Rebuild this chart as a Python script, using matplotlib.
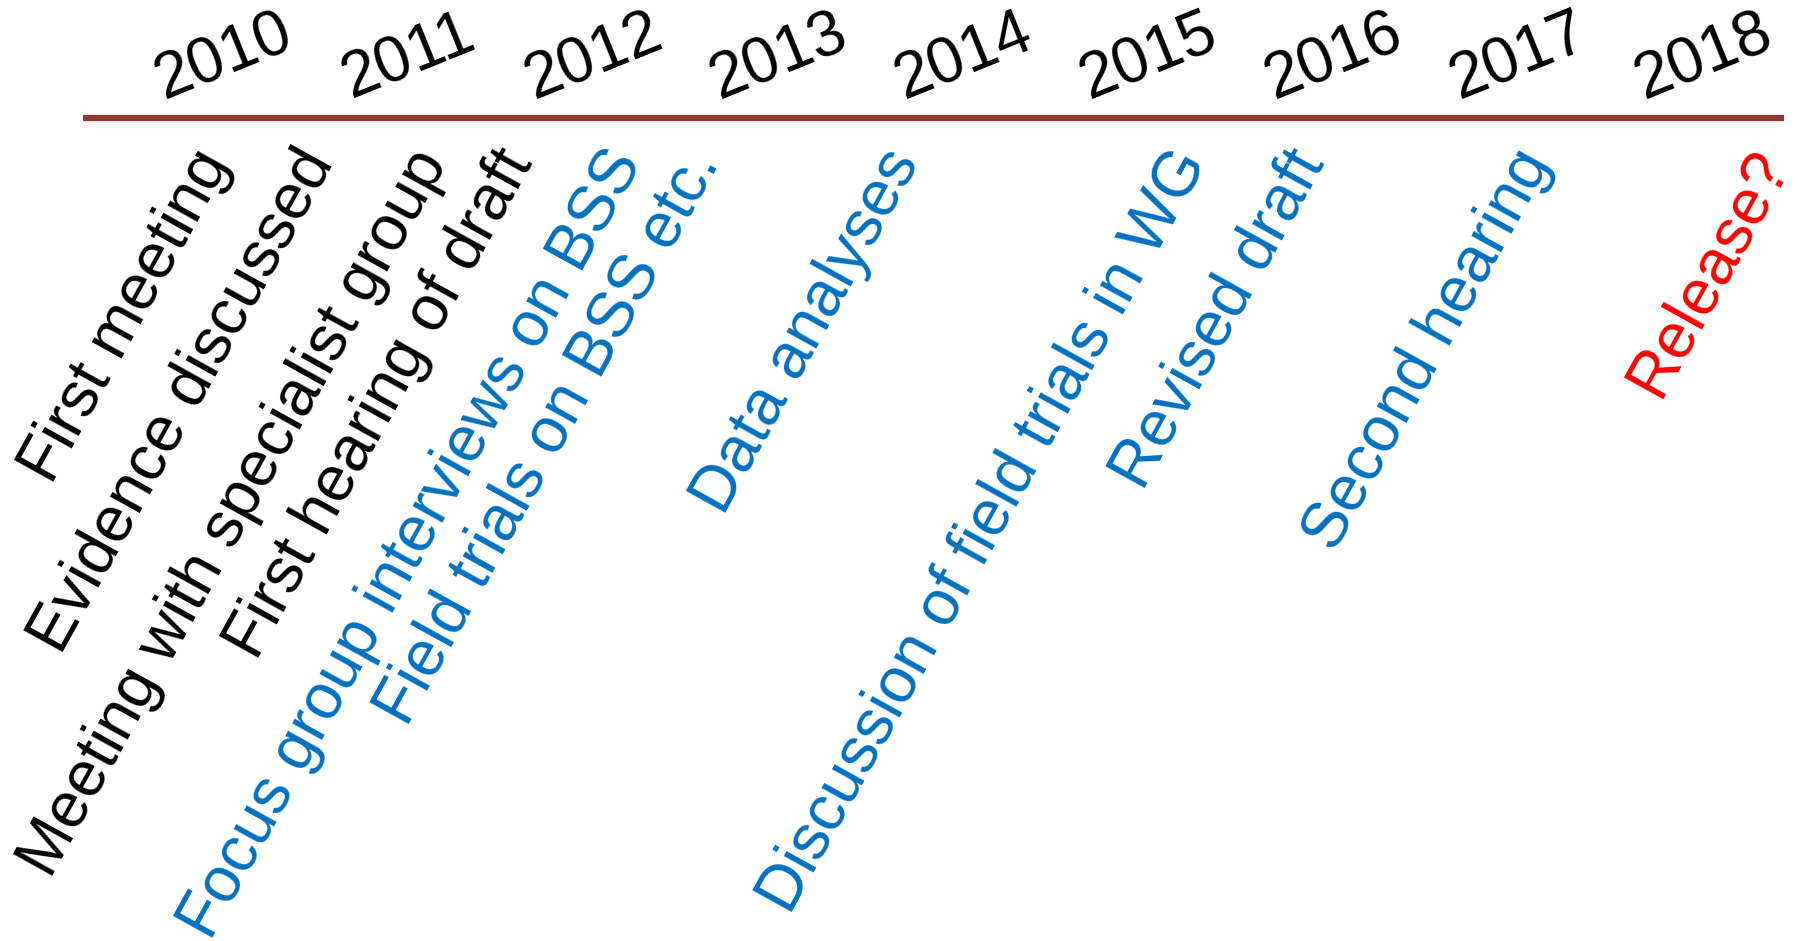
import matplotlib.pyplot as plt

plt.rcParams['font.family'] = ['Liberation Sans', 'DejaVu Sans']

years = [2010, 2011, 2012, 2013, 2014, 2015, 2016, 2017, 2018]

events = ['First meeting', 'Evidence discussed', 'Meeting with specialist group',
          'First hearing of draft', 'Focus group interviews on BSS',
          'Field trials on BSS etc.', 'Data analyses',
          'Discussion of field trials in WG', 'Revised draft',
          'Second hearing', 'Release?']
event_when = [2009.81, 2010.37, 2010.99, 2011.45, 2012.04, 2012.46,
              2013.54, 2015.09, 2015.73, 2016.95, 2018.24]
event_kind = ['done', 'done', 'done', 'done', 'plan', 'plan',
              'plan', 'plan', 'plan', 'plan', 'future']

kleur = {'done': 'black', 'plan': '#0070C0', 'future': '#FF0000'}

fig = plt.figure(figsize=(17.98, 9.41), dpi=100)
ax = fig.add_axes([0, 0, 1, 1])
ax.set_xlim(2008.789, 2018.508)
ax.set_ylim(941, 0)
ax.axis('off')

# tidslinje
ax.plot([2009.24, 2018.43], [118, 118], color='#953735', lw=4.5,
        solid_capstyle='butt')

for y in years:
    ax.text(y, 57, str(y), rotation=22, ha='center', va='center',
            fontsize=46, color='black')

for tekst, x, k in zip(events, event_when, event_kind):
    ax.text(x, 140, tekst, rotation=61, rotation_mode='anchor',
            ha='right', va='top', fontsize=46, color=kleur[k])

fig.savefig('out.png', dpi=100)
